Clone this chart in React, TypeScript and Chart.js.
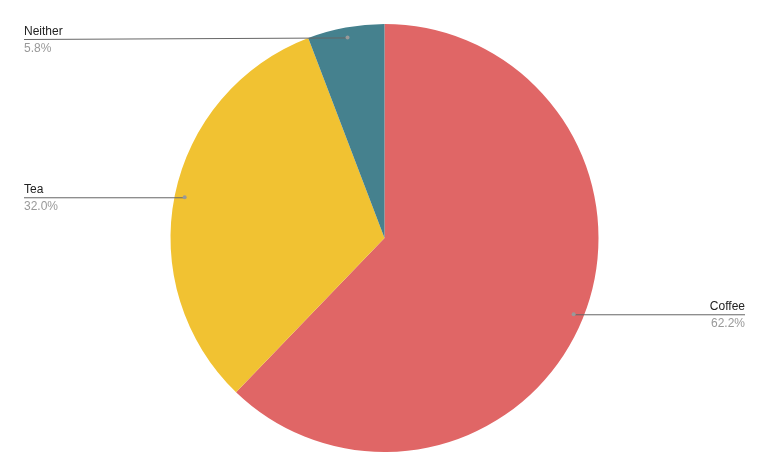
import React, { useEffect, useRef } from "react";
import { Chart, registerables } from "chart.js";

Chart.register(...registerables);

const categories = ["Coffee", "Tea", "Neither"];
const values = [62.2, 32.0, 5.8];
const percentLabels = ["62.2%", "32.0%", "5.8%"];
const colors = ["#E06666", "#F1C232", "#45818E"];

const leaderPlugin = {
  id: "leaderLabels",
  afterDatasetsDraw(chart: any) {
    const ctx = chart.ctx;
    const meta = chart.getDatasetMeta(0);
    const W = chart.width;
    ctx.save();
    meta.data.forEach((arc: any, i: number) => {
      const { x, y, startAngle, endAngle, outerRadius } = arc.getProps(
        ["x", "y", "startAngle", "endAngle", "outerRadius"],
        true
      );
      const mid = (startAngle + endAngle) / 2;
      const r = outerRadius * 0.953;
      const dx = x + Math.cos(mid) * r;
      const dy = y + Math.sin(mid) * r;
      const right = Math.cos(mid) > 0;
      const lineY = Math.max(dy, 39);
      const endX = right ? W - 24 : 24;
      ctx.strokeStyle = "#666666";
      ctx.lineWidth = 1;
      ctx.beginPath();
      ctx.moveTo(endX, lineY + 0.5);
      ctx.lineTo(dx, dy + 0.5);
      ctx.stroke();
      ctx.fillStyle = "#999999";
      ctx.beginPath();
      ctx.arc(dx, dy, 2, 0, Math.PI * 2);
      ctx.fill();
      ctx.font = "12px 'Liberation Sans', Arial, sans-serif";
      ctx.textAlign = right ? "right" : "left";
      ctx.textBaseline = "alphabetic";
      ctx.fillStyle = "#222222";
      ctx.fillText(categories[i], endX, lineY - 4);
      ctx.fillStyle = "#999999";
      ctx.fillText(percentLabels[i], endX, lineY + 13);
    });
    ctx.restore();
  },
};

export default function App() {
  const ref = useRef<HTMLCanvasElement>(null);
  useEffect(() => {
    if (!ref.current) return;
    const chart = new Chart(ref.current, {
      type: "pie",
      data: {
        labels: categories,
        datasets: [
          {
            data: values,
            backgroundColor: colors,
            borderWidth: 0,
          },
        ],
      },
      options: {
        responsive: false,
        animation: false,
        layout: { padding: { top: 24, bottom: 24, left: 0, right: 0 } },
        plugins: {
          legend: { display: false },
          tooltip: { enabled: false },
        },
      },
      plugins: [leaderPlugin],
    });
    return () => chart.destroy();
  }, []);
  return (
    <div style={{ position: "fixed", left: 0, top: 0, width: 769, height: 476, background: "#fff" }}>
      <canvas ref={ref} width={769} height={476} />
    </div>
  );
}
